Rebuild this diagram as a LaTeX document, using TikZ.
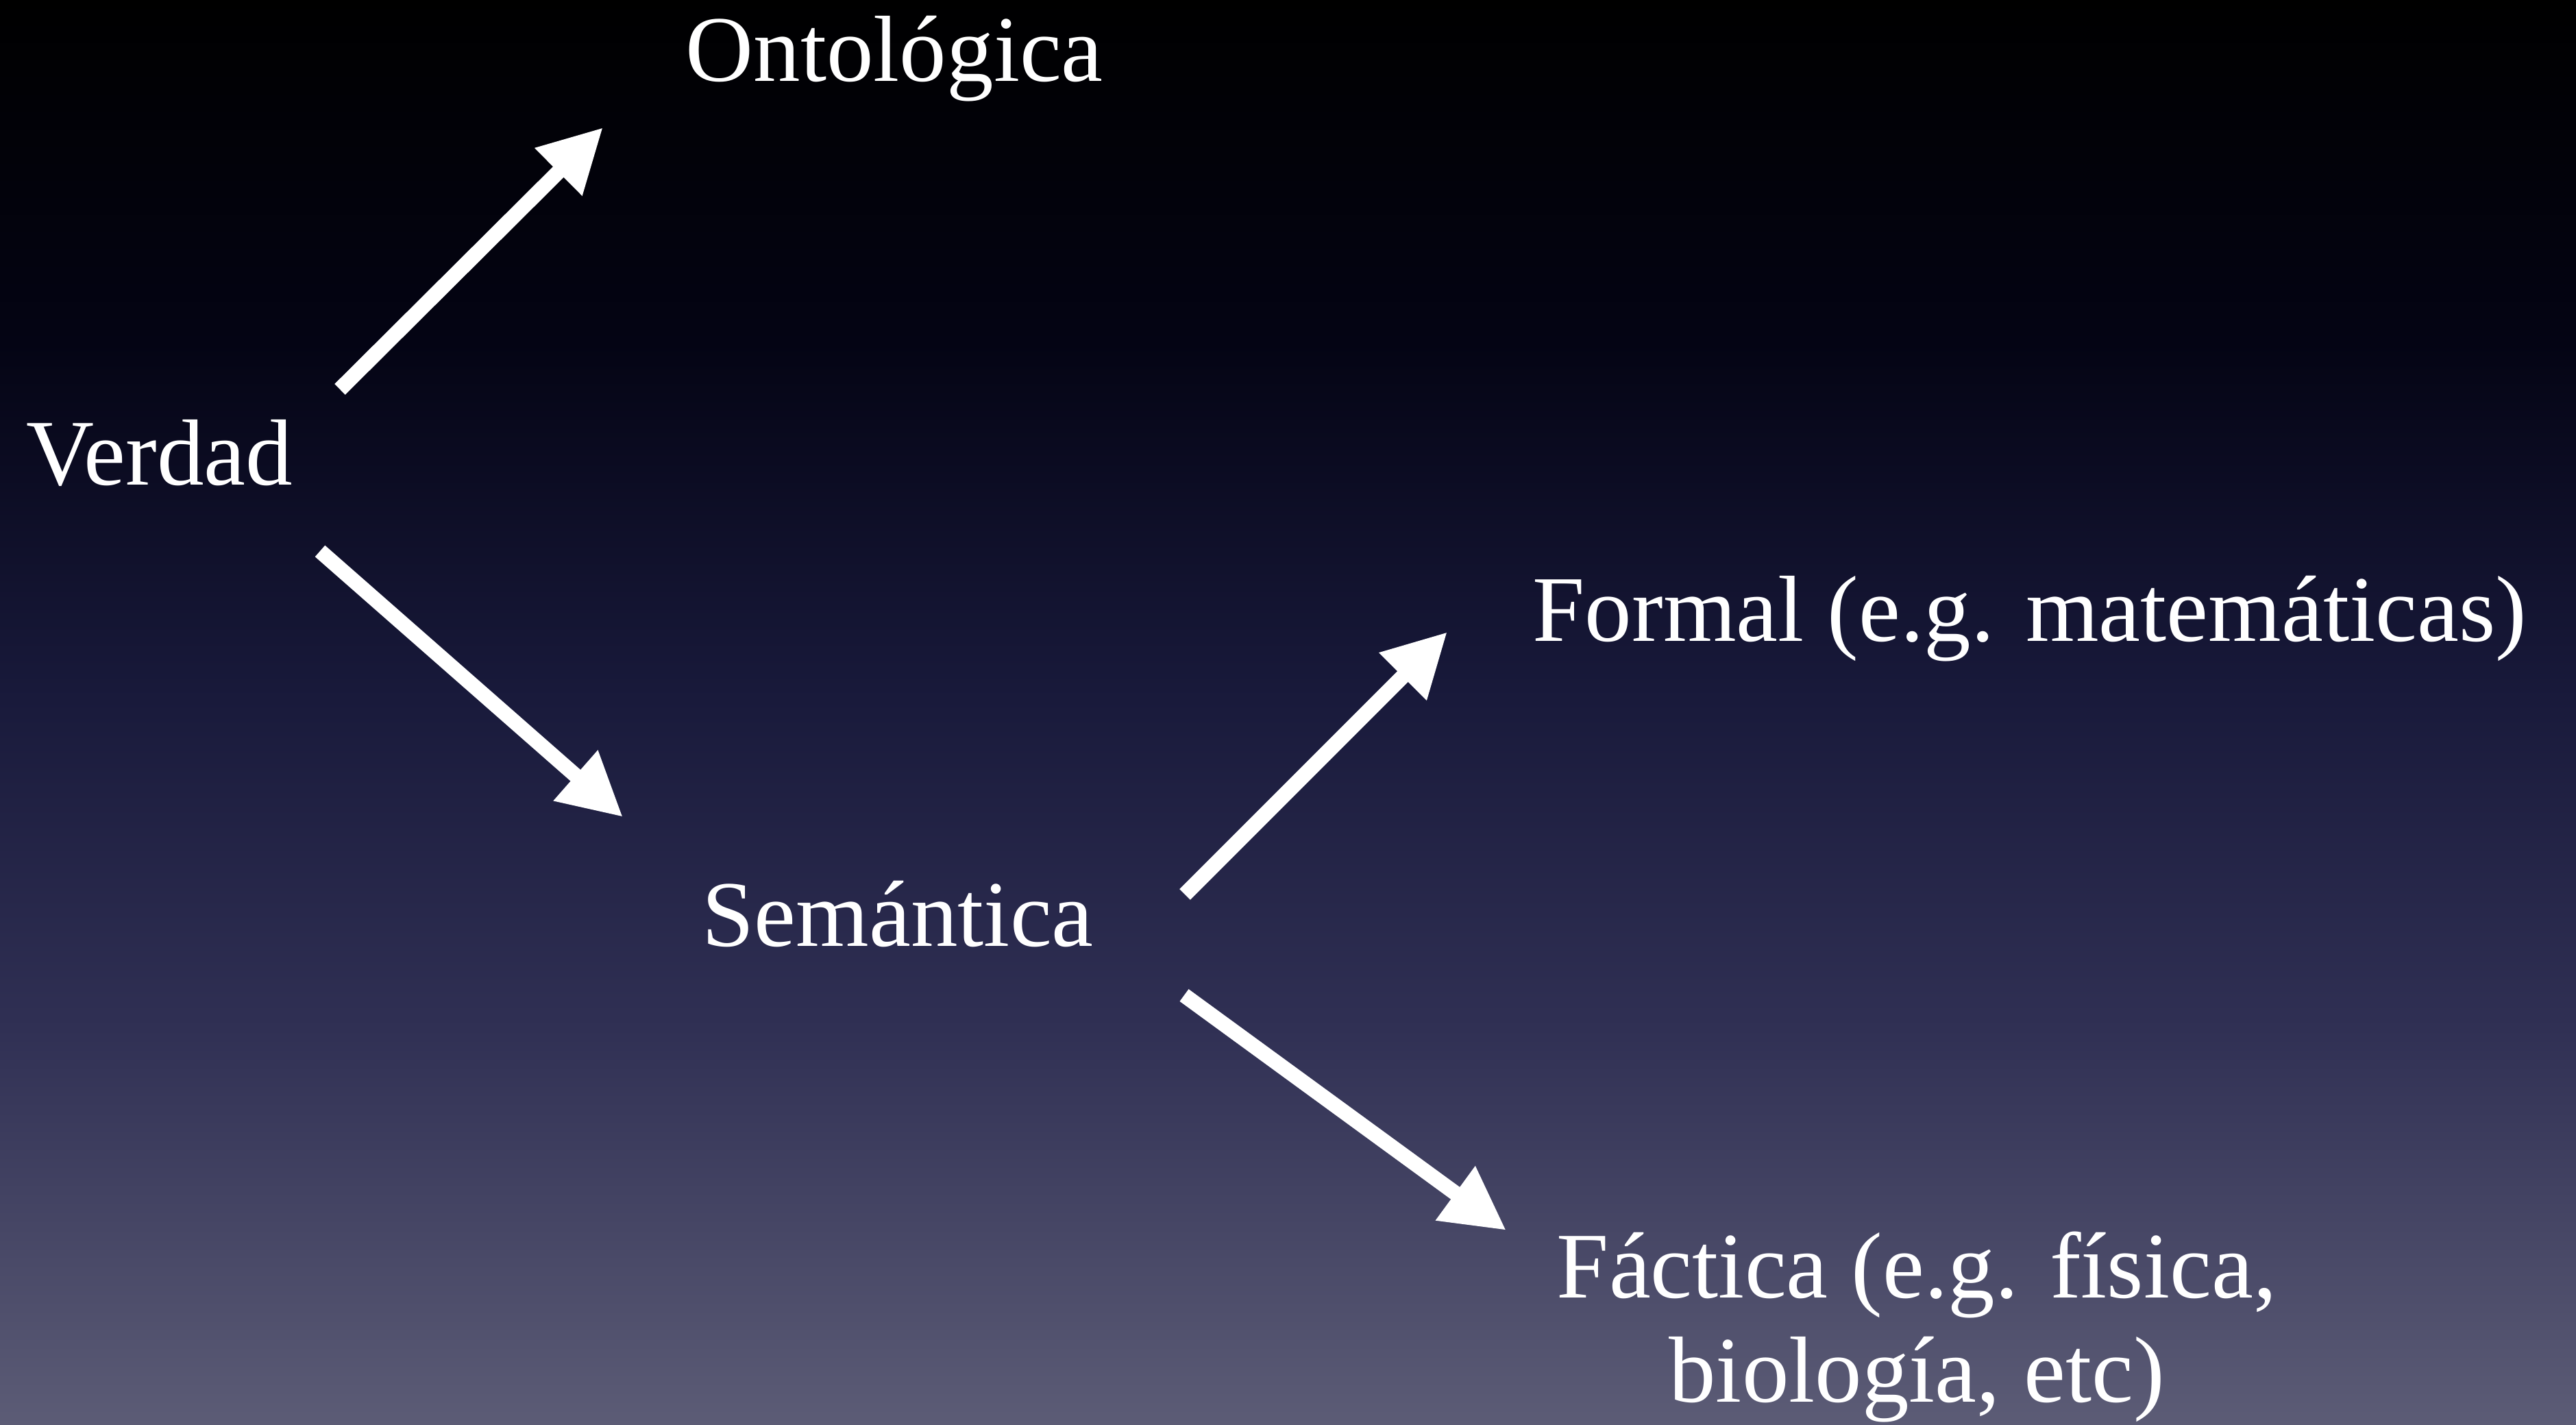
\documentclass[tikz,border=0pt]{standalone}
\usepackage{fontspec}
\setmainfont{Liberation Serif}
\usetikzlibrary{arrows.meta, positioning}

\definecolor{bgtop}{RGB}{0,0,0}
\definecolor{bgA}{RGB}{4,4,20}
\definecolor{bgB}{RGB}{24,25,58}
\definecolor{bgC}{RGB}{48,48,84}
\definecolor{bgbot}{RGB}{92,92,118}

\begin{document}
\begin{tikzpicture}[
    term/.style={text=white, inner sep=0pt, font=\fontsize{39}{43}\selectfont},
    arrow/.style={-{Triangle[length=0.92cm, width=0.92cm]}, white, line width=0.22cm}
]
    % fondo degradado
    \useasboundingbox (0,0) rectangle (37.59,-20.79);
    \fill[top color=bgtop, bottom color=bgA] (0,0) rectangle (37.59,-5.02);
    \fill[top color=bgA, bottom color=bgB] (0,-5.00) rectangle (37.59,-10.02);
    \fill[top color=bgB, bottom color=bgC] (0,-10.00) rectangle (37.59,-15.02);
    \fill[top color=bgC, bottom color=bgbot] (0,-15.00) rectangle (37.59,-20.79);

    % conceptos
    \node[term, anchor=base west] (verdad) at (0.38,-7.07) {Verdad};
    \node[term, anchor=base west] (ontologica) at (10.00,-1.19) {Ontológica};
    \node[term, anchor=base west] (semantica) at (10.24,-13.80) {Semántica};
    \node[term, anchor=base west] (formal) at (22.36,-9.35) {Formal (e.g. matemáticas)};
    \node[term, anchor=base, align=center] (factica) at (27.97,-20.45)
    {Fáctica (e.g. física,\\biología, etc)};

    % flechas
    \draw[arrow] ([shift={(4.58,1.39)}]verdad.base west) -- ([shift={(-1.20,-0.67)}]ontologica.base west);
    \draw[arrow] ([shift={(4.29,-0.97)}]verdad.base west) -- ([shift={(-1.15,1.88)}]semantica.base west);
    \draw[arrow] ([shift={(7.05,0.75)}]semantica.base west) -- ([shift={(-1.24,0.13)}]formal.base west);
    \draw[arrow] ([shift={(7.04,-0.72)}]semantica.base west) -- ([shift={(-5.99,2.50)}]factica.base);
\end{tikzpicture}
\end{document}
